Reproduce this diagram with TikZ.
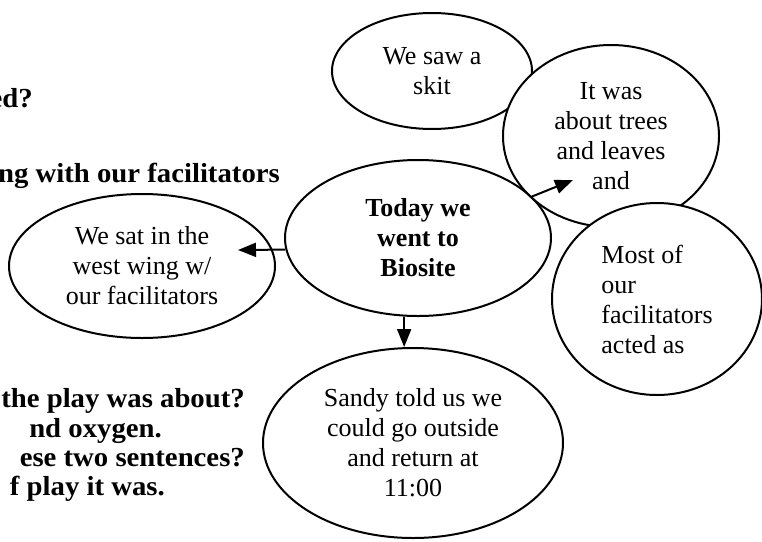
\documentclass[tikz,border=0pt]{standalone}
\usepackage{fontspec}
\setmainfont{Liberation Serif}
\newfontfamily\qfont[FakeStretch=1.045]{Liberation Serif}
\usetikzlibrary{shapes.geometric,arrows.meta}
\begin{document}
\begin{tikzpicture}[x=1pt,y=-1pt,
  bub/.style={ellipse, draw, line width=2pt, inner sep=0pt, align=center,
    font=\fontsize{26}{30}\selectfont},
  arr/.style={line width=2pt, -{Triangle[length=18pt,width=14pt]}},
  qtext/.style={anchor=base east, inner sep=0pt,
    font=\qfont\bfseries\fontsize{27.5}{30}\selectfont}]
\fill[white] (0,0) rectangle (762,541);
\useasboundingbox (0,0) rectangle (762,541);
\clip (0,0) rectangle (762,541);

\node[qtext] (q1) at (33,107) {ed?};
\node[qtext] (q2) at (280,182) {ng with our facilitators};
\node[qtext] (q3) at (245,407) {the play was about?};
\node[qtext] (q4) at (162,437) {nd oxygen.};
\node[qtext] (q5) at (245,466) {ese two sentences?};
\node[qtext] (q6) at (165,495) {f play it was.};

\node[bub, fill=white, minimum width=200pt, minimum height=116pt] (skit) at (432,71) {We saw a\\skit};
\node[bub, fill=white, minimum width=216pt, minimum height=182pt] (trees) at (611,136) {It was\\about trees\\and leaves\\and};
\node[bub, minimum width=266pt, minimum height=156pt,
  font=\bfseries\fontsize{26}{30}\selectfont] (central) at (418,238) {Today we\\went to\\Biosite};
\node[bub, fill=white, minimum width=210pt, minimum height=192pt, align=left] (most) at (657,299) {Most of\\our\\facilitators\\acted as};
\node[bub, minimum width=266pt, minimum height=144pt] (west) at (142,266) {We sat in the\\west wing w/\\our facilitators};
\node[bub, minimum width=300pt, minimum height=190pt] (sandy) at (413,443) {Sandy told us we\\could go outside\\and return at\\11:00};

\coordinate (wtip) at (238,250);
\coordinate (ttip) at (573,180);
\draw[arr] (central.185) -- (wtip);
\draw[arr] (central.20) -- (ttip);
\draw[arr] (central.260) -- (central.260 |- sandy.north);
\end{tikzpicture}
\end{document}
